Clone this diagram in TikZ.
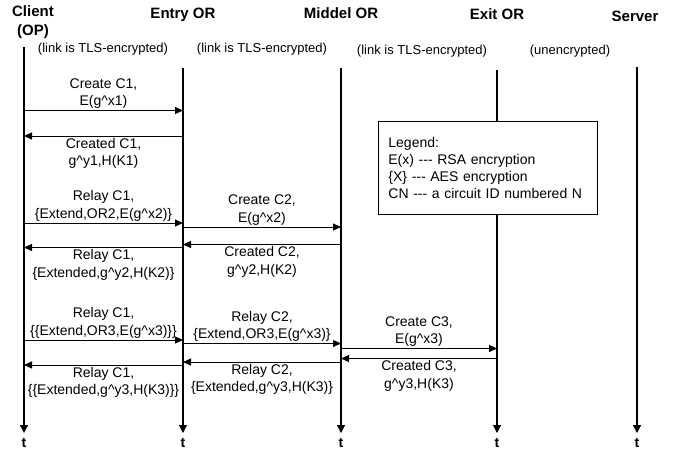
\documentclass[tikz,border=0pt]{standalone}
\usepackage{fontspec}
\setmainfont{Liberation Sans}
\usetikzlibrary{arrows.meta}
\newcommand{\crt}{\textasciicircum{}}
\tikzset{
  hdr/.style={font=\bfseries\fontsize{15}{18.5}\selectfont, align=center, inner sep=0pt},
  tlbl/.style={font=\bfseries\fontsize{14}{17}\selectfont, inner sep=0pt},
  lbl/.style={font=\fontsize{14}{17.5}\selectfont, align=center, inner sep=1.5pt},
  link/.style={font=\fontsize{13}{15}\selectfont, inner sep=0pt},
  life/.style={line width=1.1pt, -{Triangle[length=8pt,width=8pt]}},
  msg/.style={line width=1pt, -{Triangle[length=8pt,width=7pt]}},
}
\begin{document}
\begin{tikzpicture}[x=1pt,y=-1pt]
  \useasboundingbox (0,0) rectangle (679,456);
  % heads
  \node[hdr] (hcl) at (33,22) {Client\\(OP)};
  \node[hdr, anchor=base] (hen) at (183,18) {Entry OR};
  \node[hdr, anchor=base] (hmi) at (341,18) {Middel OR};
  \node[hdr, anchor=base] (hex) at (497,19.5) {Exit OR};
  \node[hdr, anchor=base] (hse) at (635,21.5) {Server};
  % links
  \node[link] (k1) at (103,49) {(link is TLS-encrypted)};
  \node[link] (k2) at (262,49) {(link is TLS-encrypted)};
  \node[link] (k3) at (422,51) {(link is TLS-encrypted)};
  \node[link] (k4) at (570,51) {(unencrypted)};
  % lifelines
  \foreach \n/\x/\top in {cl/24/47, en/183/68, mi/341/68, ex/497/70, se/637/67} {
    \coordinate (\n-top) at (\x,\top);
    \coordinate (\n-bot) at (\x,433);
    \node[tlbl] (\n-t) at (\x,443) {t};
    \draw[life] (\n-top) -- (\n-bot);
  }
  % message ends
  \foreach \i/\y/\a/\b in {1/110.5/cl/en, 2/136/en/cl, 3/223/cl/en, 4/227/en/mi,
      5/244.5/mi/en, 6/247.5/en/cl, 7/340/cl/en, 8/343.5/en/mi, 9/348.5/mi/ex,
      10/358.5/ex/mi, 11/362/mi/en, 12/365/en/cl} {
    \coordinate (m\i-a) at (\a-top |- 0,\y);
    \coordinate (m\i-b) at (\b-top |- 0,\y);
  }
  % messages
  \draw[msg] (m1-a) -- node[lbl, above] (l1) {Create C1,\\E(g\crt x1)} (m1-b);
  \draw[msg] (m2-a) -- node[lbl, below] (l2) {Created C1,\\g\crt y1,H(K1)} (m2-b);
  \draw[msg] (m3-a) -- node[lbl, above] (l3) {Relay C1,\\\{Extend,OR2,E(g\crt x2)\}} (m3-b);
  \draw[msg] (m4-a) -- node[lbl, above] (l4) {Create C2,\\E(g\crt x2)} (m4-b);
  \draw[msg] (m5-a) -- node[lbl, below] (l5) {Created C2,\\g\crt y2,H(K2)} (m5-b);
  \draw[msg] (m6-a) -- node[lbl, below] (l6) {Relay C1,\\\{Extended,g\crt y2,H(K2)\}} (m6-b);
  \draw[msg] (m7-a) -- node[lbl, above] (l7) {Relay C1,\\\{\{Extend,OR3,E(g\crt x3)\}\}} (m7-b);
  \draw[msg] (m8-a) -- node[lbl, above] (l8) {Relay C2,\\\{Extend,OR3,E(g\crt x3)\}} (m8-b);
  \draw[msg] (m9-a) -- node[lbl, above] (l9) {Create C3,\\E(g\crt x3)} (m9-b);
  \draw[msg] (m10-a) -- node[lbl, below] (l10) {Created C3,\\g\crt y3,H(K3)} (m10-b);
  \draw[msg] (m11-a) -- node[lbl, below] (l11) {Relay C2,\\\{Extended,g\crt y3,H(K3)\}} (m11-b);
  \draw[msg] (m12-a) -- node[lbl, below] (l12) {Relay C1,\\\{\{Extended,g\crt y3,H(K3)\}\}} (m12-b);
  % legend
  \node[draw, fill=white, line width=0.8pt, anchor=north west, align=left,
        font=\fontsize{14}{17}\selectfont, inner xsep=10pt, text width=199pt,
        minimum height=93pt] (legend) at (378,121)
    {Legend:\\E(x) {-}{-}{-} RSA encryption\\\{X\} {-}{-}{-} AES encryption\\CN {-}{-}{-} a circuit ID numbered N};
\end{tikzpicture}
\end{document}
